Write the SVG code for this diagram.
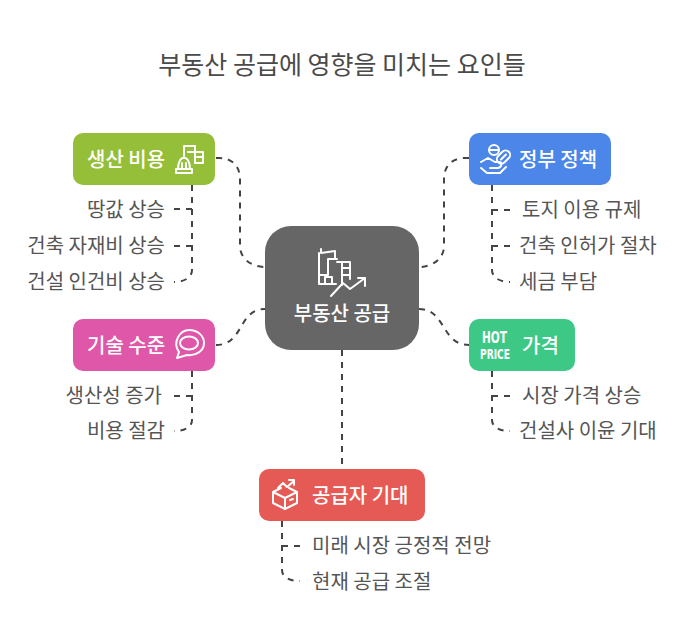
<svg xmlns="http://www.w3.org/2000/svg" width="684" height="642" viewBox="0 0 684 642">
<style>
text{font-family:"Noto Sans CJK KR","Noto Sans",sans-serif}
.t{font-size:25px;fill:#4a4a4a}
.n{font-size:20px;fill:#fff;font-weight:500}
.s{font-size:20px;fill:#555}
.c{fill:none;stroke:#444;stroke-width:2;stroke-dasharray:6 6}
.i{fill:none;stroke:#fff;stroke-width:2;stroke-linejoin:round;stroke-linecap:round}
.h{font-weight:700;fill:#fff;font-family:"DejaVu Sans",sans-serif}
</style>
<rect width="684" height="642" fill="#fff"/>
<text class="t" x="342" y="74" text-anchor="middle">부동산 공급에 영향을 미치는 요인들</text>
<g id="connectors">
<path class="c" d="M216 158H219C232 158 240 166 240 179V246C240 259 252 267 265 267"/>
<path class="c" d="M469 158H465C452 158 444 166 444 179V246C444 259 432 267 419 267"/>
<path class="c" d="M216 345C244 345 238 309 265 309"/>
<path class="c" d="M419 309C446 309 441 345 469 345"/>
<path class="c" d="M342 350V469"/>
<path class="c" d="M192 185V270C192 277 185 282 174 282"/>
<path class="c" d="M192 209H174"/>
<path class="c" d="M192 246H174"/>
<path class="c" d="M492 185V270C492 277 499 282 510 282"/>
<path class="c" d="M492 210H510"/>
<path class="c" d="M492 246H510"/>
<path class="c" d="M192 371V420C192 427 185 431 174 431"/>
<path class="c" d="M192 396H174"/>
<path class="c" d="M492 371V420C492 427 499 431 510 431"/>
<path class="c" d="M492 396H510"/>
<path class="c" d="M282 521V570C282 577 289 581 300 581"/>
<path class="c" d="M282 546H300"/>
</g>
<g id="center">
<rect x="265" y="226" width="154" height="124" rx="26" fill="#666"/>
<path class="i" d="M321 249V253L335 251V258M319 253V284H336M328 259H337M328 259V275H319M325 284V277H332V284M337 262H350V279M342 262V285M342 268H350M342 275H350M331 296L343 283L350 289L365 278M358 278H365V286"/>
<text class="n" x="342" y="321" text-anchor="middle">부동산 공급</text>
</g>
<g id="cost">
<rect x="73" y="133" width="142" height="52" rx="10" fill="#95bf39"/>
<text class="n" x="87" y="167">생산 비용</text>
<path class="i" d="M184 156V146H195V163H203V152H188M197 157H203M176 173H192V169H176ZM178 169C178 154 190 154 190 169M182 169V163M186 169V163"/>
</g>
<g id="policy">
<rect x="469" y="133" width="142" height="52" rx="10" fill="#4b86e8"/>
<text class="n" x="519" y="167">정부 정책</text>
<circle class="i" cx="494" cy="150" r="5"/>
<path class="i" d="M490 150H498M481 162L488 158L495 162H500C502 163 502 167 498 168H490M481 168L487 173H500L506 167"/>
<rect class="i" x="496" y="152.500" width="15" height="9" rx="4.500" transform="rotate(-45 503.500 157)"/>
<path class="i" d="M501 159.500L506 154.500"/>
</g>
<g id="tech">
<rect x="73" y="319" width="142" height="52" rx="10" fill="#df57a8"/>
<text class="n" x="87" y="353">기술 수준</text>
<path class="i" d="M179 352C172 342 180 330 189 330C198 330 204 336 204 343C204 351 196 356 187 355L177 358Z"/>
<ellipse class="i" cx="189" cy="343" rx="9" ry="6.500"/>
</g>
<g id="price">
<rect x="469" y="319" width="106" height="52" rx="10" fill="#3dc885"/>
<text class="h" x="482" y="343" font-size="15" textLength="25" lengthAdjust="spacingAndGlyphs">HOT</text>
<text class="h" x="480" y="359" font-size="13.500" textLength="30" lengthAdjust="spacingAndGlyphs">PRICE</text>
<text class="n" x="522" y="353">가격</text>
</g>
<g id="supplier">
<rect x="259" y="469" width="166" height="52" rx="10" fill="#e55a55"/>
<text class="n" x="312" y="503">공급자 기대</text>
<path class="i" d="M285 509L273 503V492L285 498L297 492V503ZM285 498V509M273 492L281 488M297 492L289 488M290 500L293 499M278 488L283 483L287 487L294 481M289 480H294V485"/>
</g>
<g id="labels">
<text class="s" x="165" y="217" text-anchor="end">땅값 상승</text>
<text class="s" x="165" y="253" text-anchor="end">건축 자재비 상승</text>
<text class="s" x="165" y="289" text-anchor="end">건설 인건비 상승</text>
<text class="s" x="522" y="217">토지 이용 규제</text>
<text class="s" x="519" y="253">건축 인허가 절차</text>
<text class="s" x="519" y="289">세금 부담</text>
<text class="s" x="162" y="403" text-anchor="end">생산성 증가</text>
<text class="s" x="165" y="438" text-anchor="end">비용 절감</text>
<text class="s" x="522" y="403">시장 가격 상승</text>
<text class="s" x="519" y="438">건설사 이윤 기대</text>
<text class="s" x="312" y="553">미래 시장 긍정적 전망</text>
<text class="s" x="312" y="589">현재 공급 조절</text>
</g>
</svg>
